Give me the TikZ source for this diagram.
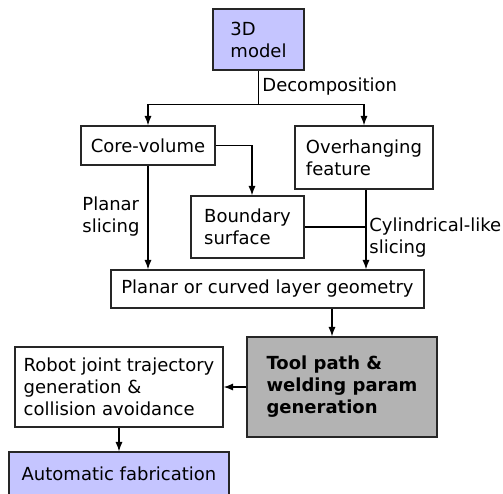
\documentclass[tikz,border=0pt]{standalone}
\usepackage{fontspec}
\setmainfont{DejaVu Sans}
\usepackage{tikz}
\usetikzlibrary{arrows.meta}
\definecolor{inputblue}{RGB}{197,197,255}
\definecolor{stepgray}{RGB}{179,179,179}

\begin{document}
\begin{tikzpicture}[x=0.5pt,y=-0.5pt,>={Latex[length=4.8pt,width=3.6pt]},
    font=\fontsize{9}{11}\selectfont,
    box/.style={draw=black!85,line width=0.6pt,inner sep=0pt,align=left},
    flow/.style={line width=0.6pt}]
  % Page frame, in pixel units with y pointing down.
  \useasboundingbox (0,0) rectangle (503,493);
  \clip (0,0) rectangle (503,493);

  % Blocks of the pipeline.
  \node[box,fill=inputblue,minimum width=45.5pt,minimum height=30.5pt] (model) at (258.5,39.5) {3D\\model};
  \node[box,minimum width=67pt,minimum height=19.5pt] (core) at (148,145.5) {Core-volume};
  \node[box,minimum width=69pt,minimum height=31.5pt] (over) at (364,157.5) {Overhanging\\feature};
  \node[box,minimum width=56.5pt,minimum height=31pt] (bound) at (247.5,227) {Boundary\\surface};
  \node[box,minimum width=156.5pt,minimum height=19pt] (layer) at (267.5,289) {Planar or curved layer geometry};
  \node[box,fill=stepgray,minimum width=95pt,minimum height=50pt,font=\fontsize{9}{11}\selectfont\bfseries] (tool) at (342,387) {Tool path \&\\welding param\\generation};
  \node[box,minimum width=104pt,minimum height=40pt] (robot) at (119,387) {Robot joint trajectory\\generation \&\\collision avoidance};
  \node[box,fill=inputblue,minimum width=110pt,minimum height=22pt] (fab) at (119,474) {Automatic fabrication};

  % Decomposition into the two parts.
  \draw[flow] (model.south) -- ++(0,34) coordinate (split);
  \draw[flow,->] (split) -| (core.north);
  \draw[flow,->] (split) -| (over.north);
  \node[anchor=west,inner sep=0pt] (decomp) at (262,87) {Decomposition};

  % Slicing paths down to the layer geometry.
  \coordinate (bndin) at ([xshift=2.25pt]bound.north);
  \draw[flow,->] (core.east) -| (bndin);
  \draw[flow,->] (core.south) -- (core.south |- layer.north);
  \coordinate (ovout) at ([xshift=1pt]over.south);
  \draw[flow,->] (ovout) -- (ovout |- layer.north);
  \draw[flow] (bound.east) -- (bound.east -| ovout);
  \node[anchor=west,inner sep=0pt,align=left] (planar) at (82,217) {Planar\\slicing};
  \node[anchor=west,inner sep=0pt,align=left] (cyl) at (369,238) {Cylindrical-like\\slicing};

  % Path planning and robot side.
  \coordinate (toolin) at ([xshift=-5pt]tool.north);
  \draw[flow,->] (toolin |- layer.south) -- (toolin);
  \draw[flow,->] (tool.west) -- (robot.east);
  \draw[flow,->] (robot.south) -- (fab.north);
\end{tikzpicture}
\end{document}
